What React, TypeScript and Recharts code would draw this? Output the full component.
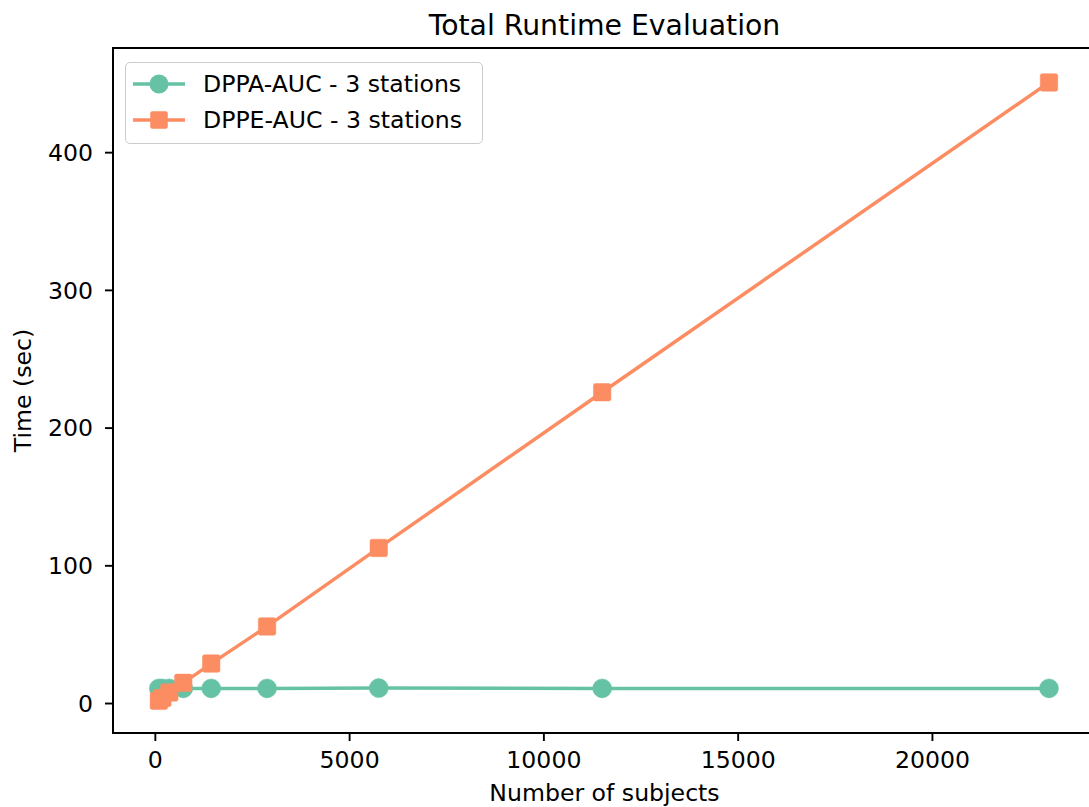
import React from 'react';
import { LineChart, Line, XAxis, YAxis, ReferenceArea } from 'recharts';

const subjects = [90, 180, 359, 719, 1438, 2875, 5750, 11500, 23000];
const dppaTimes = [11, 11, 11, 11, 11, 11, 11.2, 11, 11];
const dppeTimes = [2, 4, 8, 15, 29, 56, 113, 226, 451];
const xTicks = [0, 5000, 10000, 15000, 20000];
const yTicks = [0, 100, 200, 300, 400];
const seriesNames = ['DPPA-AUC - 3 stations', 'DPPE-AUC - 3 stations'];
const titleText = 'Total Runtime Evaluation';
const xLabelText = 'Number of subjects';
const yLabelText = 'Time (sec)';

const data = subjects.map((n, i) => ({ n, a: dppaTimes[i], e: dppeTimes[i] }));

const GREEN = '#66c2a5';
const ORANGE = '#fc8d62';
const FONT = '"DejaVu Sans", sans-serif';
const TICK_FS = 23.6;

const circleDot = (props: any) => {
  const { cx, cy, index } = props;
  if (cx == null || cy == null) return <g key={`c${index}`} />;
  return <circle key={`c${index}`} cx={cx} cy={cy} r={9.5} fill={GREEN} stroke={GREEN} strokeWidth={0.5} />;
};

const squareDot = (props: any) => {
  const { cx, cy, index } = props;
  if (cx == null || cy == null) return <g key={`s${index}`} />;
  const s = 17.5;
  return <rect key={`s${index}`} x={cx - s / 2} y={cy - s / 2} width={s} height={s} rx={2} fill={ORANGE} stroke={ORANGE} strokeWidth={0.5} />;
};

export default function App() {
  return (
    <div style={{ position: 'fixed', left: 0, top: 0, width: 1089, height: 807, overflow: 'hidden', background: '#fff' }}>
      <LineChart
        width={1110}
        height={807}
        data={data}
        margin={{ top: 48, right: 14, bottom: 0, left: 0 }}
      >
        <XAxis
          type="number"
          dataKey="n"
          domain={[-1090, 24210]}
          ticks={xTicks}
          allowDataOverflow
          height={74}
          tickSize={8}
          tickMargin={10}
          axisLine={{ stroke: '#000', strokeWidth: 1.9 }}
          tickLine={{ stroke: '#000', strokeWidth: 1.9 }}
          tick={{ fill: '#000', fontSize: TICK_FS, fontFamily: FONT }}
          label={{
            content: (p: any) => {
              const vb = p.viewBox || { x: 113, width: 983 };
              return (
                <text x={vb.x + vb.width / 2} y={801} textAnchor="middle" fill="#000" fontSize={TICK_FS} fontFamily={FONT}>
                  {xLabelText}
                </text>
              );
            },
          }}
        />
        <YAxis
          type="number"
          domain={[-21.4, 476]}
          ticks={yTicks}
          allowDataOverflow
          width={113}
          tickSize={8}
          tickMargin={12}
          axisLine={{ stroke: '#000', strokeWidth: 1.9 }}
          tickLine={{ stroke: '#000', strokeWidth: 1.9 }}
          tick={{ fill: '#000', fontSize: TICK_FS, fontFamily: FONT }}
          label={{
            content: (p: any) => {
              const vb = p.viewBox || { y: 48, height: 685 };
              const cy = vb.y + vb.height / 2;
              return (
                <text x={31} y={cy} transform={`rotate(-90 31 ${cy})`} textAnchor="middle" fill="#000" fontSize={TICK_FS} fontFamily={FONT}>
                  {yLabelText}
                </text>
              );
            },
          }}
        />
        <Line
          type="linear"
          dataKey="a"
          stroke={GREEN}
          strokeWidth={3.5}
          dot={circleDot}
          activeDot={false}
          isAnimationActive={false}
        />
        <Line
          type="linear"
          dataKey="e"
          stroke={ORANGE}
          strokeWidth={3.5}
          dot={squareDot}
          activeDot={false}
          isAnimationActive={false}
        />
        <ReferenceArea
          x1={-1090}
          x2={24210}
          y1={-21.4}
          y2={476}
          fill="none"
          fillOpacity={0}
          stroke="#000"
          strokeWidth={1.9}
          ifOverflow="visible"
          label={{
            content: (p: any) => {
              const vb = p.viewBox || { x: 113, y: 48, width: 983 };
              return (
                <text x={vb.x + vb.width / 2} y={vb.y - 13} textAnchor="middle" fill="#000" fontSize={28.3} fontFamily={FONT}>
                  {titleText}
                </text>
              );
            },
          }}
        />
      </LineChart>
      <div
        style={{
          position: 'absolute',
          left: 125,
          top: 62,
          width: 356,
          height: 80,
          border: '1.9px solid #cccccc',
          borderRadius: 5,
          background: 'rgba(255,255,255,0.8)',
          fontFamily: FONT,
          fontSize: TICK_FS,
          color: '#000',
        }}
      >
        {seriesNames.map((name, i) => (
          <div key={name} style={{ position: 'absolute', left: 0, top: i === 0 ? 20.7 - 18 : 57.3 - 18, height: 36, width: '100%' }}>
            <svg width={60} height={36} style={{ position: 'absolute', left: 5, top: 0 }}>
              <line x1={2} y1={18} x2={54} y2={18} stroke={i === 0 ? GREEN : ORANGE} strokeWidth={3.5} />
              {i === 0 ? (
                <circle cx={28} cy={18} r={9.5} fill={GREEN} />
              ) : (
                <rect x={28 - 8.75} y={18 - 8.75} width={17.5} height={17.5} rx={2} fill={ORANGE} />
              )}
            </svg>
            <span style={{ position: 'absolute', left: 77, top: 0, lineHeight: '36px', whiteSpace: 'nowrap' }}>{name}</span>
          </div>
        ))}
      </div>
    </div>
  );
}
